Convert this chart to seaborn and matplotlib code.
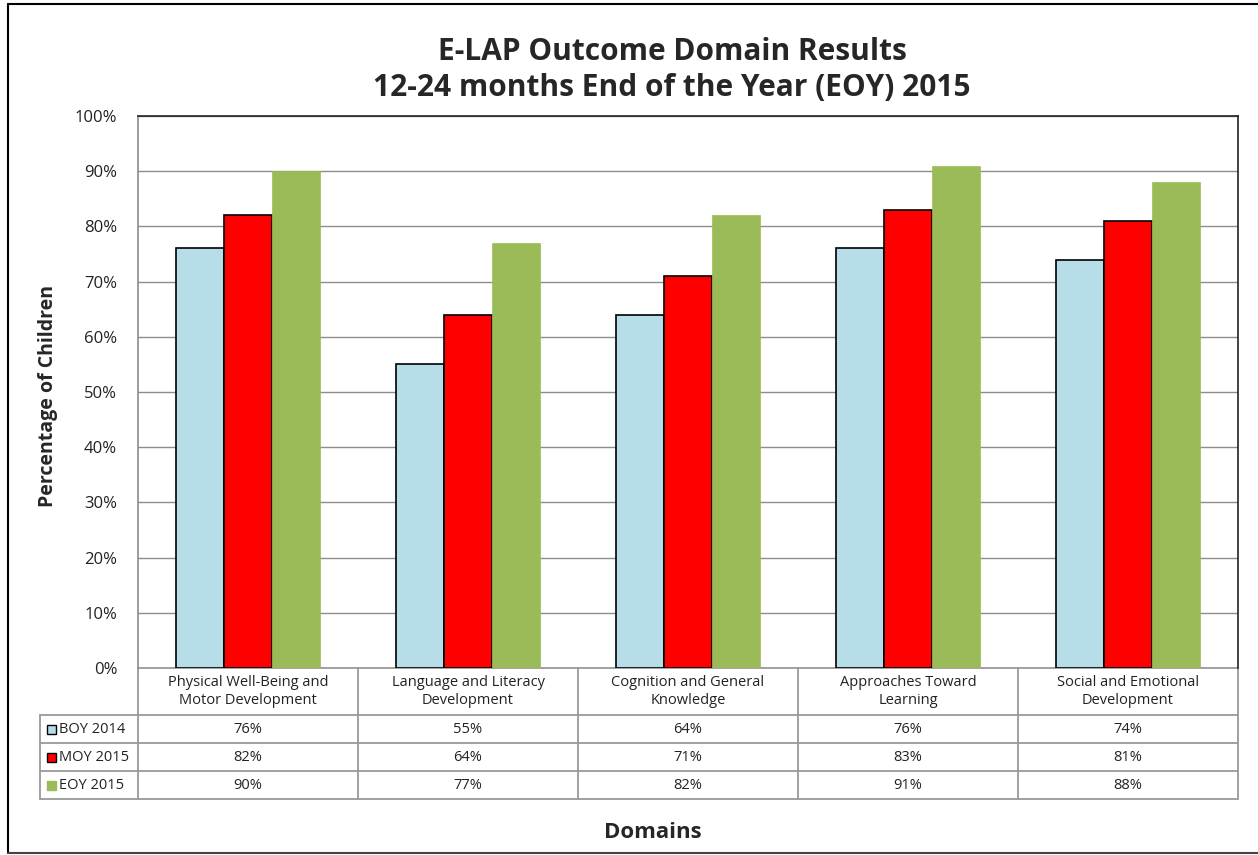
import matplotlib
matplotlib.use("Agg")
import matplotlib.pyplot as plt
import seaborn as sns
import pandas as pd
from matplotlib.patches import Rectangle
from matplotlib.lines import Line2D

categories = ["Physical Well-Being and\nMotor Development",
              "Language and Literacy\nDevelopment",
              "Cognition and General\nKnowledge",
              "Approaches Toward\nLearning",
              "Social and Emotional\nDevelopment"]
series = ["BOY 2014", "MOY 2015", "EOY 2015"]
boy_2014 = [76, 55, 64, 76, 74]
moy_2015 = [82, 64, 71, 83, 81]
eoy_2015 = [90, 77, 82, 91, 88]
y_ticks = [0, 10, 20, 30, 40, 50, 60, 70, 80, 90, 100]
colors = ["#B7DDE8", "#FF0000", "#9BBB59"]

sns.set_theme(style="white")
plt.rcParams['font.family'] = ['Open Sans', 'DejaVu Sans']

df = pd.DataFrame({
    "Domain": categories * 3,
    "Series": [s for s in series for _ in categories],
    "Value": boy_2014 + moy_2015 + eoy_2015,
})

W, H = 1258, 855
fig = plt.figure(figsize=(W / 100, H / 100), dpi=100)
ax = fig.add_axes([138 / W, 1 - 668 / H, 1100 / W, 552 / H])

sns.barplot(data=df, x="Domain", y="Value", hue="Series", order=categories,
            hue_order=series, palette=colors, width=0.655, ax=ax,
            legend=False, saturation=1)

for i, cont in enumerate(ax.containers):
    for p in cont.patches:
        if i < 2:
            p.set_edgecolor("black")
            p.set_linewidth(1.2)
        else:
            p.set_edgecolor(colors[2])
            p.set_linewidth(0.5)
        p.set_zorder(3)

ax.set_xlim(-0.5, 4.5)
ax.set_ylim(0, 100)
ax.set_yticks(y_ticks)
ax.set_yticklabels([f"{t}%" for t in y_ticks], fontsize=12, color="#222222")
ax.tick_params(axis="y", length=0, pad=15)
ax.set_xticks([])
ax.set_xlabel("")
ax.set_ylabel("")
ax.yaxis.grid(True, color="#8c8c8c", linewidth=1.0, zorder=0)
ax.set_axisbelow(True)
for side in ["top", "right"]:
    ax.spines[side].set_color("#222222")
    ax.spines[side].set_linewidth(1.2)
ax.spines["left"].set_color("#8c8c8c")
ax.spines["left"].set_linewidth(1.2)
ax.spines["bottom"].set_visible(False)

# Data table
trans = ax.get_xaxis_transform()
px = 1 / 552.0
row_edges = [0, -47 * px, -75 * px, -103 * px, -131 * px]
x_left = -0.5 - 98 / 220.0
grid_col = "#9a9a9a"

def hline(y, x0, x1):
    ax.add_line(Line2D([x0, x1], [y, y], transform=trans, color=grid_col,
                       linewidth=1.3, clip_on=False))

def vline(x, y0, y1):
    ax.add_line(Line2D([x, x], [y0, y1], transform=trans, color=grid_col,
                       linewidth=1.3, clip_on=False))

hline(row_edges[0], -0.5, 4.5)
for y in row_edges[1:]:
    hline(y, x_left, 4.5)
for x in [-0.5, 0.5, 1.5, 2.5, 3.5, 4.5]:
    vline(x, row_edges[0], row_edges[-1])
vline(x_left, row_edges[1], row_edges[-1])

for i, cat in enumerate(categories):
    ax.text(i, (row_edges[0] + row_edges[1]) / 2, cat, transform=trans,
            ha="center", va="center", fontsize=10.5, color="#222222",
            linespacing=1.3)

values = [boy_2014, moy_2015, eoy_2015]
for r, (name, vals) in enumerate(zip(series, values)):
    yc = (row_edges[r + 1] + row_edges[r + 2]) / 2
    for i, v in enumerate(vals):
        ax.text(i, yc, f"{v}%", transform=trans, ha="center", va="center",
                fontsize=10.5, color="#222222")
    kx = x_left + 7 / 220.0
    ec = "black" if r < 2 else colors[2]
    ax.add_patch(Rectangle((kx, yc - 4.5 * px), 9 / 220.0, 9 * px,
                           transform=trans, facecolor=colors[r], edgecolor=ec,
                           linewidth=1.0, clip_on=False))
    ax.text(kx + 12 / 220.0, yc, name, transform=trans, ha="left",
            va="center", fontsize=10.5, color="#222222")

# Titles and axis labels
fig.text(672 / W, 1 - 52 / H, "E-LAP Outcome Domain Results", ha="center",
         va="center", fontsize=21.5, fontweight="bold")
fig.text(672 / W, 1 - 88 / H, "12-24 months End of the Year (EOY) 2015",
         ha="center", va="center", fontsize=21.5, fontweight="bold")
fig.text(653 / W, 1 - 832 / H, "Domains", ha="center", va="center",
         fontsize=16, fontweight="bold")
fig.text(48 / W, 1 - 396 / H, "Percentage of Children", ha="center",
         va="center", rotation=90, fontsize=14, fontweight="bold")

# outer chart border
fig.add_artist(Line2D([8 / W, 8 / W], [1 - 4 / H, 1 - 853 / H],
                      transform=fig.transFigure, color="black", linewidth=1.5))
fig.add_artist(Line2D([8 / W, 1.0], [1 - 4 / H, 1 - 4 / H],
                      transform=fig.transFigure, color="black", linewidth=1.5))
fig.add_artist(Line2D([8 / W, 1.0], [1 - 853 / H, 1 - 853 / H],
                      transform=fig.transFigure, color="#444444", linewidth=1.5))

fig.savefig("out.png", dpi=100, facecolor="white")
